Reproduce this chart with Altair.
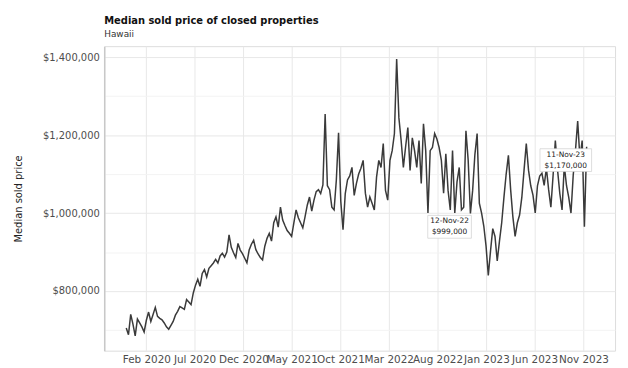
import altair as alt
import pandas as pd

# ---- data (weekly median sold price, thousands of USD) ----
first_week = "2019-11-30"
prices_k = [
    705, 688, 740, 715, 685, 728, 718, 708, 695, 725,
    746, 722, 740, 758, 735, 730, 726, 718, 708, 702,
    712, 722, 738, 748, 760, 757, 753, 778, 772, 765,
    795, 815, 830, 812, 845, 855, 836, 858, 865, 872,
    881, 872, 890, 897, 887, 900, 944, 912, 898, 886,
    922, 905, 896, 884, 872, 905, 920, 930, 906, 895,
    886, 880, 915, 935, 948, 928, 975, 990, 964, 1015,
    982, 968, 955, 948, 940, 975, 1008, 988, 975, 962,
    990, 1020, 1041, 1005, 1033, 1055, 1060, 1050, 1072, 1254,
    1070, 1060, 1015, 1008, 1084, 1206, 1030, 957, 1050, 1085,
    1095, 1117, 1045, 1076, 1100, 1115, 1135, 1051, 1015, 1041,
    1025, 1008, 1092, 1135, 1117, 1178, 1058, 1033, 1135, 1160,
    1204, 1395, 1244, 1186, 1117, 1170, 1219, 1109, 1193, 1160,
    1117, 1186, 1076, 1229, 1160, 1000, 1160, 1168, 1204, 1190,
    1168, 1135, 1051, 1152, 1058, 1008, 1160, 1000, 1080, 1117,
    1008, 1015, 1211, 1135, 999, 1058, 1150, 1204, 1025, 1000,
    966, 915, 840, 903, 960, 940, 877, 928, 975, 1040,
    1100, 1148, 1060, 990, 940, 975, 995, 1040, 1110, 1178,
    1110, 1070, 1046, 1000, 1070, 1095, 1102, 1071, 1115, 1060,
    1015, 1097, 1186, 1110, 1050, 1008, 1122, 1070, 1040, 1000,
    1097, 1160, 1236, 1140, 1186, 965, 1170,
]

ann_dates = ["2022-11-12", "2023-11-11"]
ann_prices = [999000, 1170000]
ann_date_text = ["12-Nov-22", "11-Nov-23"]
ann_price_text = ["$999,000", "$1,170,000"]
ann_box_width = [44, 52]

y_ticks = [700000, 800000, 900000, 1000000, 1100000, 1200000, 1300000, 1400000]
x_major = [(2020, 2), (2020, 7), (2020, 12), (2021, 5), (2021, 10),
           (2022, 3), (2022, 8), (2023, 1), (2023, 6), (2023, 11)]
x_minor = [(2020, 4, 16), (2020, 9, 16), (2021, 2, 14), (2021, 7, 16),
           (2021, 12, 16), (2022, 5, 16), (2022, 10, 16), (2023, 3, 16),
           (2023, 8, 16), (2024, 1, 16)]

dates = pd.date_range(first_week, periods=len(prices_k), freq="7D")
df = pd.DataFrame({
    "date": dates.strftime("%Y-%m-%dT00:00:00"),
    "price": [v * 1000 for v in prices_k],
})
ann = pd.DataFrame({
    "date": [d + "T00:00:00" for d in ann_dates],
    "price": ann_prices,
    "dtext": ann_date_text,
    "ptext": ann_price_text,
    "w": ann_box_width,
})

FONT = "DejaVu Sans"

x_values = [alt.DateTime(year=y, month=m, date=1) for y, m in x_major] + \
           [alt.DateTime(year=y, month=m, date=d) for y, m, d in x_minor]

x_scale = alt.Scale(domain=[alt.DateTime(year=2019, month=9, date=22),
                            alt.DateTime(year=2024, month=2, date=8)])
y_scale = alt.Scale(domain=[647000, 1428000], nice=False, zero=False)

x_enc = alt.X(
    "date:T", scale=x_scale, title=None,
    axis=alt.Axis(
        values=x_values,
        labelExpr="date(datum.value) == 1 ? timeFormat(datum.value, '%b %Y') : ''",
        grid=True,
        gridColor={"condition": {"test": "date(datum.value) == 1", "value": "#e8e8e8"},
                   "value": "#f3f3f3"},
        ticks=False, domain=False, labelOverlap=False, labelFlush=False,
        labelFont=FONT, labelFontSize=10.5, labelColor="#4d4d4d", labelPadding=4,
    ),
)
y_enc = alt.Y(
    "price:Q", scale=y_scale, title="Median sold price",
    axis=alt.Axis(
        values=y_ticks,
        labelExpr="datum.value % 200000 == 0 ? format(datum.value, '$,.0f') : ''",
        grid=True,
        gridColor={"condition": {"test": "datum.value % 200000 == 0", "value": "#e8e8e8"},
                   "value": "#f3f3f3"},
        ticks=False, domain=True, domainColor="#c8c8c8", domainWidth=1.5,
        labelFont=FONT, labelFontSize=10, labelColor="#4d4d4d", labelPadding=5,
        titleFont=FONT, titleFontSize=10, titleFontWeight="normal",
        titleColor="#222222", titlePadding=19,
    ),
)

line = alt.Chart(df).mark_line(color="#3a3a3a", strokeWidth=1.5).encode(x=x_enc, y=y_enc)

layers = [line]
for i in range(len(ann)):
    row = ann.iloc[[i]]
    w = float(row["w"].iloc[0])
    box = alt.Chart(row).mark_rect(
        fill="white", stroke="#cfcfcf", strokeWidth=0.7,
        xOffset=-21 - w / 2, x2Offset=-21 + w / 2, yOffset=2, y2Offset=25,
    ).encode(x="date:T", x2="date:T", y="price:Q", y2="price:Q")
    t1 = alt.Chart(row).mark_text(
        dx=-21, dy=8, align="center", baseline="middle",
        font=FONT, fontSize=7.5, color="#222222",
    ).encode(x="date:T", y="price:Q", text="dtext:N")
    t2 = alt.Chart(row).mark_text(
        dx=-21, dy=19, align="center", baseline="middle",
        font=FONT, fontSize=7.5, color="#222222",
    ).encode(x="date:T", y="price:Q", text="ptext:N")
    layers += [box, t1, t2]

chart = alt.layer(*layers).properties(
    width=515, height=307,
    autosize="none",
    padding={"left": 97, "top": 37, "right": 5, "bottom": 15},
    title=alt.TitleParams(
        "Median sold price of closed properties", subtitle="Hawaii",
        anchor="start", frame="group", font=FONT, fontSize=10, fontWeight="bold",
        color="#111111",
        subtitleFont=FONT, subtitleFontSize=9, subtitleColor="#333333",
        offset=7, subtitlePadding=4,
    ),
).configure_view(stroke=None).configure(background="white")

chart.save("out.html", embed_options={"renderer": "svg", "actions": False})
